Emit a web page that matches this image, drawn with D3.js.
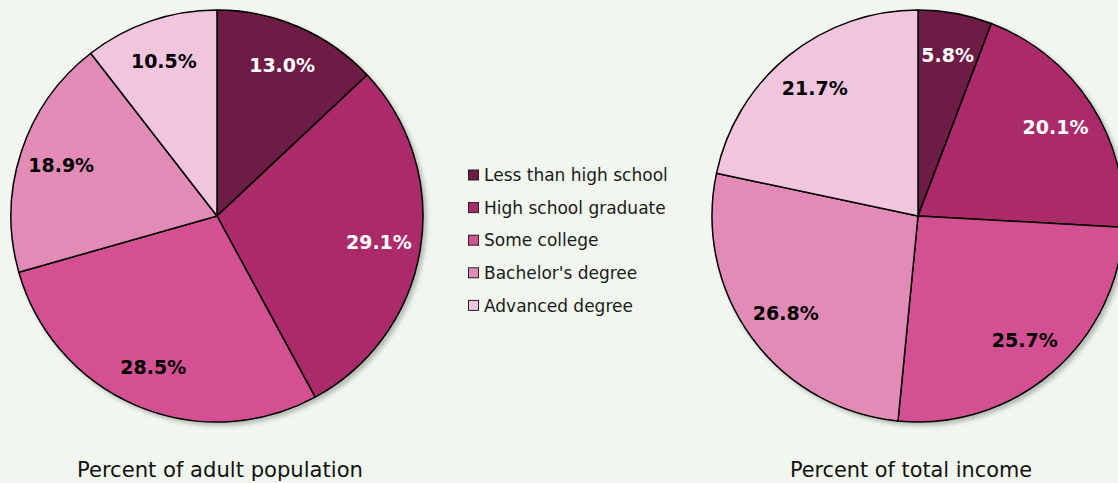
<!DOCTYPE html>
<html><head><meta charset="utf-8">
<script src="https://cdn.jsdelivr.net/npm/d3@7"></script>
<style>
html,body{margin:0;padding:0;background:#f1f7ef;}
svg{display:block;}
</style></head>
<body>
<script>
const categories = ["Less than high school","High school graduate","Some college","Bachelor's degree","Advanced degree"];
const populationValues = [13.0, 29.1, 28.5, 18.9, 10.5];
const incomeValues = [5.8, 20.1, 25.7, 26.8, 21.7];
const chartTitles = ["Percent of adult population", "Percent of total income"];
const colors = ["#6d1a45", "#ab2a6b", "#d35193", "#e38bb7", "#f1c5de"];
const labelColors = ["#ffffff", "#ffffff", "#000000", "#000000", "#000000"];

const W = 1118, H = 483;
const svg = d3.select("body").append("svg").attr("width", W).attr("height", H);
svg.append("rect").attr("width", W).attr("height", H).attr("fill", "#f1f7ef");

const defs = svg.append("defs");
const f = defs.append("filter").attr("id","shadow").attr("x","-10%").attr("y","-10%").attr("width","130%").attr("height","130%");
f.append("feDropShadow").attr("dx",3).attr("dy",3).attr("stdDeviation",2).attr("flood-color","#000").attr("flood-opacity",0.25);

const R = 206;
const pie = d3.pie().sort(null).value(d => d);
const arc = d3.arc().innerRadius(0).outerRadius(R);
const labelArc = d3.arc().innerRadius(164).outerRadius(164);

function drawPie(values, cx, cy, title, titleX, titleLen) {
  const g = svg.append("g").attr("transform", `translate(${cx},${cy})`);
  const arcs = pie(values);
  const sg = g.append("g").attr("filter","url(#shadow)");
  sg.selectAll("path").data(arcs).join("path")
    .attr("d", arc)
    .attr("fill", (d,i) => colors[i])
    .attr("stroke", "#000")
    .attr("stroke-width", 1.5)
    .attr("stroke-linejoin","round");
  g.selectAll("text.lbl").data(arcs).join("text")
    .attr("class","lbl")
    .attr("transform", d => `translate(${labelArc.centroid(d)})`)
    .attr("text-anchor","middle")
    .attr("dy","0.36em")
    .attr("font-family","DejaVu Sans, Verdana, sans-serif")
    .attr("font-weight","bold")
    .attr("font-size", 19)
    .attr("fill", (d,i) => labelColors[i])
    .text(d => d.data.toFixed(1) + "%");
  svg.append("text")
    .attr("x", titleX).attr("y", 477)
    .attr("text-anchor","middle")
    .attr("font-family","DejaVu Sans Condensed, DejaVu Sans, sans-serif")
    .attr("font-size", 22)
    .attr("fill","#111")
    .attr("textLength", titleLen)
    .attr("lengthAdjust","spacingAndGlyphs")
    .text(title);
}

drawPie(populationValues, 217, 216, chartTitles[0], 220, 286);
drawPie(incomeValues, 918, 216, chartTitles[1], 911, 242);

const legend = svg.append("g").attr("transform","translate(468,175)");
const rowH = 32.6;
const items = legend.selectAll("g").data(categories).join("g")
  .attr("transform", (d,i) => `translate(0,${i*rowH})`);
items.append("rect").attr("x",0.5).attr("y",-5).attr("width",10).attr("height",10)
  .attr("fill",(d,i)=>colors[i]).attr("stroke","#222").attr("stroke-width",1);
items.append("text").attr("x",16).attr("y",0).attr("dy","0.36em")
  .attr("font-family","DejaVu Sans, Verdana, sans-serif")
  .attr("font-size",17).attr("fill","#1a1a1a")
  .text(d=>d);
</script>
</body></html>
